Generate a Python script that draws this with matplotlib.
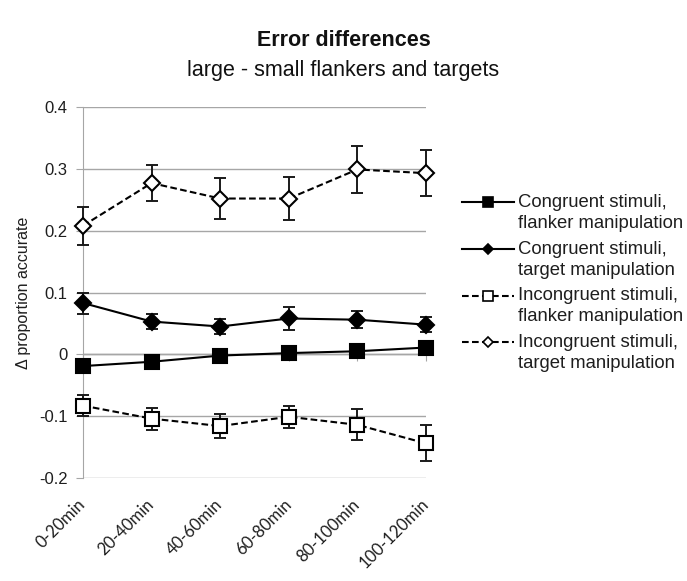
import matplotlib.pyplot as plt
import matplotlib.transforms as mtransforms
from matplotlib.lines import Line2D
from matplotlib.legend_handler import HandlerLine2D

# — DATA —
periods = ["0-20min", "20-40min", "40-60min", "60-80min", "80-100min", "100-120min"]

cong_flanker = [-0.019, -0.012, -0.002, 0.002, 0.005, 0.011]
cong_flanker_err = [0.010, 0.005, 0.004, 0.006, 0.006, 0.007]

cong_target = [0.083, 0.053, 0.045, 0.058, 0.056, 0.048]
cong_target_err = [0.017, 0.012, 0.012, 0.018, 0.014, 0.012]

incong_flanker = [-0.083, -0.104, -0.116, -0.101, -0.114, -0.144]
incong_flanker_err = [0.017, 0.018, 0.019, 0.018, 0.025, 0.029]

incong_target = [0.208, 0.277, 0.252, 0.252, 0.299, 0.293]
incong_target_err = [0.031, 0.029, 0.033, 0.035, 0.038, 0.037]

labels = ["Congruent stimuli,\nflanker manipulation",
          "Congruent stimuli,\ntarget manipulation",
          "Incongruent stimuli,\nflanker manipulation",
          "Incongruent stimuli,\ntarget manipulation"]

plt.rcParams["font.family"] = ["Liberation Sans", "DejaVu Sans"]

GRID = "#a6a6a6"
TXT = "#1e1e1e"
DASH = (0, (3.2, 1.6))


# legend marker sits on the first line of a two-line label (Excel style)
class FirstLineHandler(HandlerLine2D):
    def create_artists(self, legend, orig_handle, xdescent, ydescent,
                       width, height, fontsize, trans):
        arts = super().create_artists(legend, orig_handle, xdescent, ydescent,
                                      width, height, fontsize, trans)
        shift = mtransforms.Affine2D().translate(0, 7.7)
        for a in arts:
            a.set_transform(shift + trans)
        return arts


fig = plt.figure(figsize=(6.87, 5.81), dpi=100)
ax = fig.add_axes([0.1208, 0.1773, 0.4992, 0.6385])

x = list(range(len(periods)))

series = [
    (cong_flanker, cong_flanker_err, "s", "black", "-", 10),
    (cong_target, cong_target_err, "D", "black", "-", 8.5),
    (incong_flanker, incong_flanker_err, "s", "white", DASH, 10),
    (incong_target, incong_target_err, "D", "white", DASH, 8.5),
]

handles = []
for (vals, err, mk, face, ls, ms), lab in zip(series, labels):
    eb = ax.errorbar(x, vals, yerr=err, fmt="none", ecolor="#1a1a1a",
                     elinewidth=1.4, capsize=4, capthick=1.4, zorder=3)
    for art in eb.lines[1] + eb.lines[2]:
        art.set_clip_on(False)
    ax.plot(x, vals, color="black", linestyle=ls, linewidth=1.5,
            marker=mk, markersize=ms, markerfacecolor=face,
            markeredgecolor="black", markeredgewidth=1.5,
            zorder=4, clip_on=False)
    handles.append(Line2D([], [], color="black", linestyle=ls, linewidth=1.5,
                          marker=mk, markersize=ms * 0.65, markerfacecolor=face,
                          markeredgecolor="black", markeredgewidth=1.2, label=lab))

ax.set_xlim(0, 5)
ax.set_ylim(-0.2, 0.4)
ax.set_yticks([-0.2, -0.1, 0, 0.1, 0.2, 0.3, 0.4])
ax.set_yticklabels(["-0.2", "-0.1", "0", "0.1", "0.2", "0.3", "0.4"])
ax.yaxis.grid(True, color=GRID, linewidth=1)
ax.set_axisbelow(True)

for s in ["top", "right", "bottom"]:
    ax.spines[s].set_visible(False)
ax.spines["left"].set_color(GRID)
ax.tick_params(axis="y", direction="out", length=5, color=GRID, labelsize=12,
               labelcolor=TXT, pad=6)

ax.set_xticks(x)
ax.set_xticklabels(periods, rotation=45, ha="right", rotation_mode="anchor",
                   fontsize=12, family=["Lato", "DejaVu Sans"], color=TXT)
ax.tick_params(axis="x", length=0, pad=13)
nudge = mtransforms.ScaledTranslation(-4 / 72, 0, fig.dpi_scale_trans)
for t in ax.get_xticklabels():
    t.set_transform(t.get_transform() + nudge)

# category axis crosses at zero, labels stay at the bottom
zero_pos = (0 - (-0.2)) / 0.6
sec = ax.secondary_xaxis(zero_pos)
sec.set_xticks(x)
sec.set_xticklabels([])
sec.spines["bottom"].set_color(GRID)
sec.tick_params(axis="x", direction="out", length=5, color=GRID)
ax.axhline(0, color=GRID, linewidth=1, zorder=1)

ax.set_ylabel("Δ proportion accurate", fontsize=11.5, color=TXT, labelpad=6)

fig.text(0.500, 0.930, "Error differences", ha="center", va="center",
         fontsize=15.5, fontweight="bold", color="#111111")
fig.text(0.500, 0.878, "large - small flankers and targets", ha="center",
         va="center", fontsize=15.5, color="#111111")

leg = fig.legend(handles=handles, loc="upper left", bbox_to_anchor=(0.662, 0.679),
                 frameon=False, fontsize=13.3, handlelength=2.8, handletextpad=0.2,
                 labelspacing=0.48, borderaxespad=0,
                 handler_map={Line2D: FirstLineHandler()})
for t in leg.get_texts():
    t.set_linespacing(1.3)
    t.set_color(TXT)

fig.savefig("out.png", dpi=100)
